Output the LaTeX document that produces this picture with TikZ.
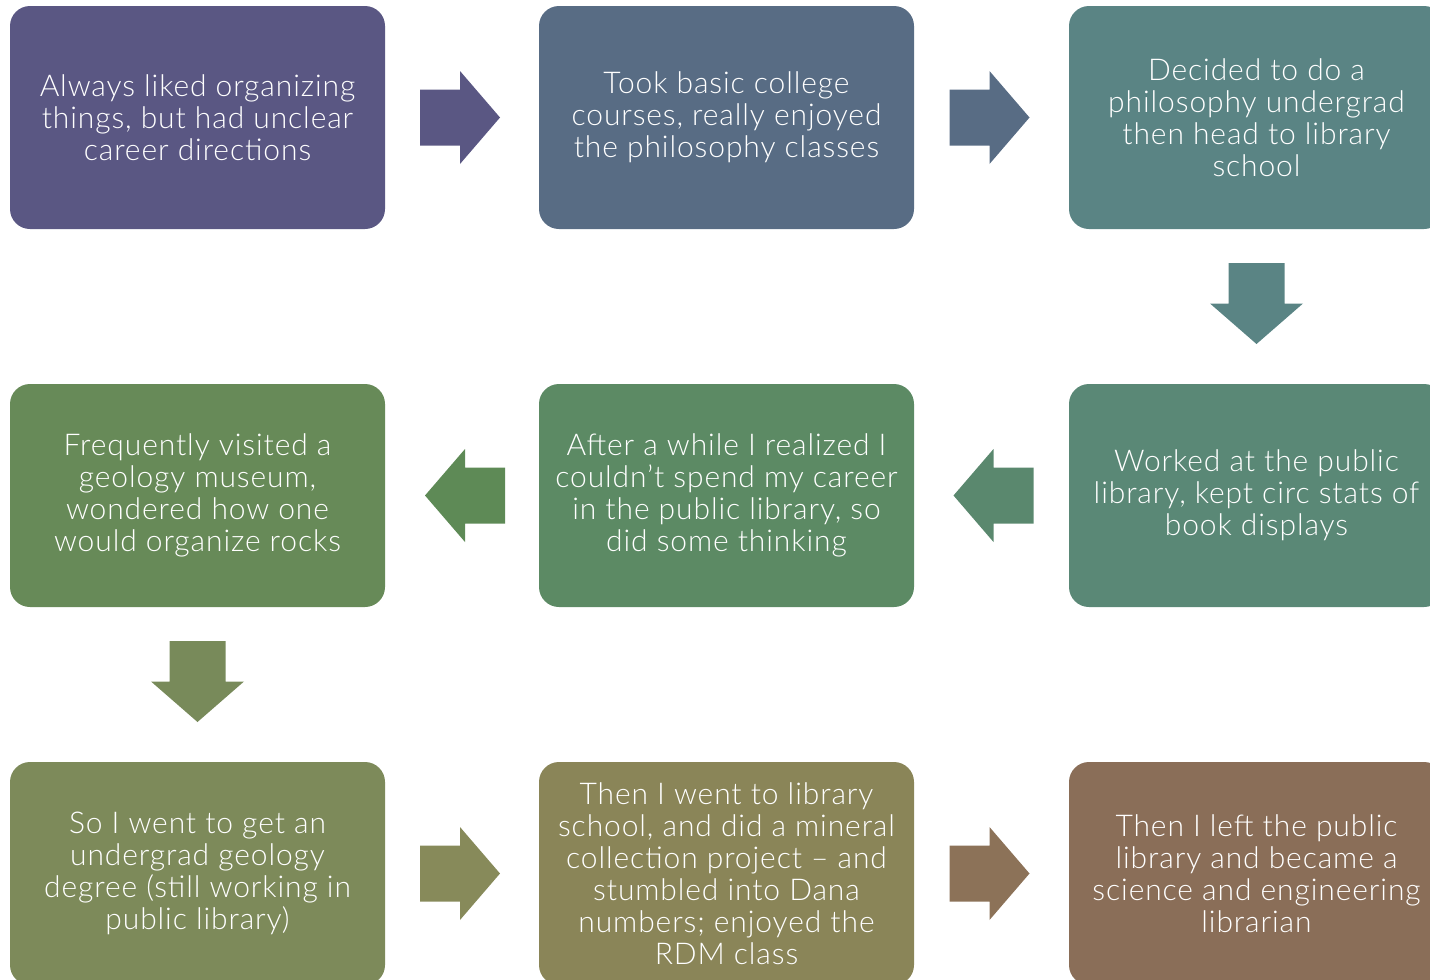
\documentclass[tikz,border=0pt]{standalone}
\usepackage{fontspec}
\setmainfont{Lato Light}[LetterSpace=3]
\usetikzlibrary{calc}
\definecolor{cA}{HTML}{5A5783}
\definecolor{cB}{HTML}{586C84}
\definecolor{cC}{HTML}{5A8484}
\definecolor{cD}{HTML}{5A8876}
\definecolor{cDa}{HTML}{5A886E}
\definecolor{cE}{HTML}{5C8A64}
\definecolor{cEa}{HTML}{5E8A56}
\definecolor{cF}{HTML}{678A58}
\definecolor{cFa}{HTML}{788A5A}
\definecolor{cG}{HTML}{7D8A5A}
\definecolor{cGa}{HTML}{878A5A}
\definecolor{cH}{HTML}{8A8558}
\definecolor{cHa}{HTML}{8C7258}
\definecolor{cI}{HTML}{8A6E58}
\tikzset{
  stepbox/.style={rectangle, rounded corners=20pt, minimum width=375pt, minimum height=223pt,
    inner sep=0pt, align=center, text=white,
    font=\fontsize{30}{32}\selectfont},
  rarr/.pic={\fill (-40,-28) -- (0,-28) -- (0,-46.5) -- (40,0) -- (0,46.5) -- (0,28) -- (-40,28) -- cycle;},
  larr/.pic={\fill (40,-28) -- (0,-28) -- (0,-46.5) -- (-40,0) -- (0,46.5) -- (0,28) -- (40,28) -- cycle;},
  darr/.pic={\fill (-28,-40.5) -- (-28,0) -- (-46.5,0) -- (0,40.5) -- (46.5,0) -- (28,0) -- (28,-40.5) -- cycle;}
}
\begin{document}
\begin{tikzpicture}[x=1pt,y=-1pt]
\useasboundingbox (0,0) rectangle (1430,980);
\clip (0,0) rectangle (1430,980);
\node[stepbox, fill=cA] (b1) at (197.5,117.5) {Always liked organizing\\things, but had unclear\\career directions};
\node[stepbox, fill=cB] (b2) at (726.5,117.5) {Took basic college\\courses, really enjoyed\\the philosophy classes};
\node[stepbox, fill=cC] (b3) at (1256.5,117.5) {Decided to do a\\philosophy undergrad\\then head to library\\school};
\node[stepbox, fill=cD] (b4) at (1256.5,495.5) {Worked at the public\\library, kept circ stats of\\book displays};
\node[stepbox, fill=cE] (b5) at (726.5,495.5) {After a while I realized I\\couldn’t spend my career\\in the public library, so\\did some thinking};
\node[stepbox, fill=cF] (b6) at (197.5,495.5) {Frequently visited a\\geology museum,\\wondered how one\\would organize rocks};
\node[stepbox, fill=cG] (b7) at (197.5,873.5) {So I went to get an\\undergrad geology\\degree (still working in\\public library)};
\node[stepbox, fill=cH] (b8) at (726.5,873.5) {Then I went to library\\school, and did a mineral\\collection project – and\\stumbled into Dana\\numbers; enjoyed the\\RDM class};
\node[stepbox, fill=cI] (b9) at (1256.5,873.5) {Then I left the public\\library and became a\\science and engineering\\librarian};
\pic[fill=cA] at ($(b1.east)!0.5!(b2.west)+(-2,0)$) {rarr};
\pic[fill=cB] at ($(b2.east)!0.5!(b3.west)+(-2,0)$) {rarr};
\pic[fill=cC] at ($(b3.south)!0.5!(b4.north)+(0,-3)$) {darr};
\pic[fill=cDa] at ($(b4.west)!0.5!(b5.east)+(2,0)$) {larr};
\pic[fill=cEa] at ($(b5.west)!0.5!(b6.east)+(3,0)$) {larr};
\pic[fill=cFa] at ($(b6.south)!0.5!(b7.north)+(0,-3)$) {darr};
\pic[fill=cGa] at ($(b7.east)!0.5!(b8.west)+(-2,0)$) {rarr};
\pic[fill=cHa] at ($(b8.east)!0.5!(b9.west)+(-2,0)$) {rarr};
\end{tikzpicture}
\end{document}
